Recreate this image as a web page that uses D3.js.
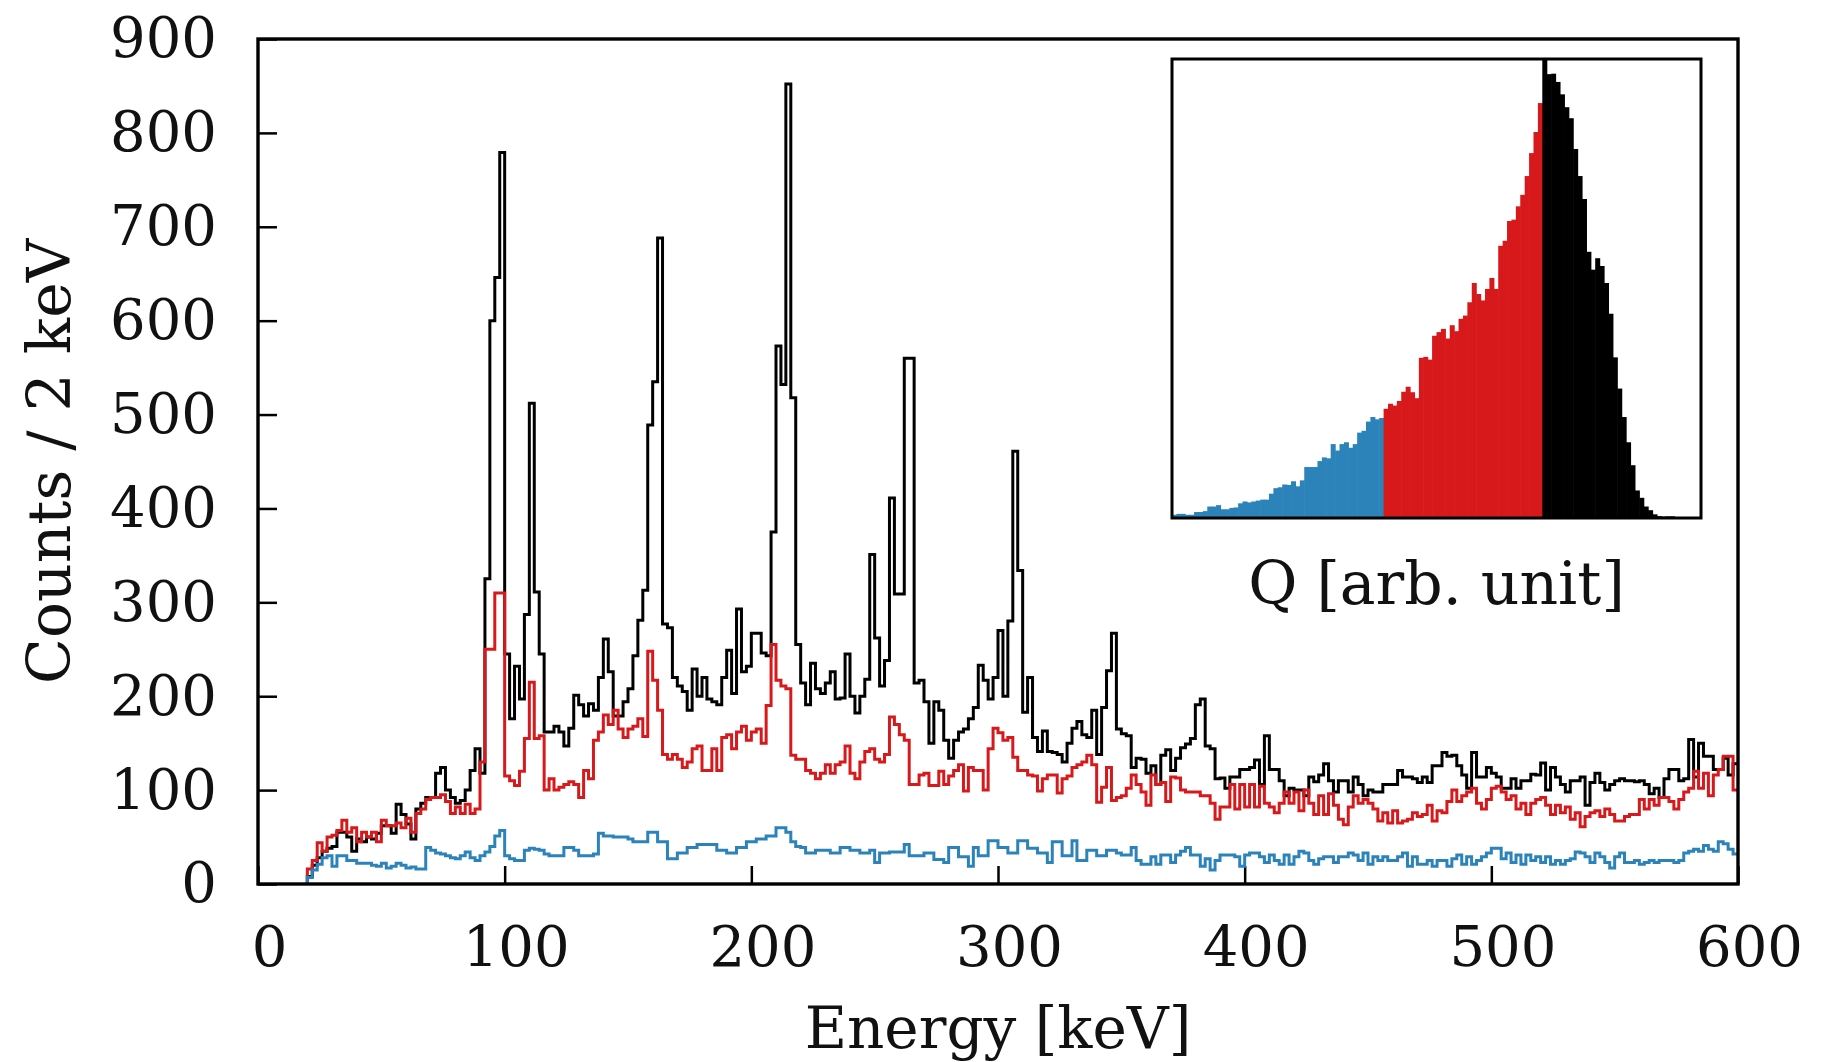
<!DOCTYPE html>
<html>
<head>
<meta charset="utf-8">
<script src="https://cdn.jsdelivr.net/npm/d3@7"></script>
<style>
  body { margin: 0; background: #fff; }
</style>
</head>
<body>
<div id="chart-area"></div>
<script>
// spectra: counts per 2 keV bin, first bin starts at 20 keV
let binStart = 20, binWidth = 2;

let allCounts = [
  8, 20, 28, 35, 38, 40, 55, 55, 50, 35,
  48, 45, 50, 48, 54, 62, 62, 54, 85, 74,
  64, 48, 80, 86, 92, 92, 118, 124, 100, 92,
  86, 89, 100, 121, 144, 118, 325, 600, 646, 779,
  245, 176, 232, 197, 287, 512, 311, 245, 162, 162,
  168, 162, 147, 166, 201, 191, 179, 192, 185, 220,
  261, 226, 179, 179, 194, 208, 243, 281, 313, 489,
  535, 688, 277, 273, 220, 211, 205, 185, 229, 200,
  220, 197, 194, 191, 220, 249, 203, 293, 226, 232,
  267, 267, 246, 243, 375, 573, 532, 852, 518, 255,
  214, 191, 235, 208, 203, 214, 226, 197, 198, 245,
  200, 182, 200, 218, 351, 262, 211, 238, 411, 309,
  309, 560, 560, 214, 217, 194, 150, 194, 185, 153,
  134, 153, 162, 165, 176, 188, 233, 217, 197, 220,
  270, 200, 280, 461, 334, 183, 220, 156, 141, 163,
  141, 140, 138, 130, 150, 166, 173, 159, 156, 185,
  138, 188, 227, 267, 165, 160, 158, 124, 134, 133,
  118, 126, 106, 137, 143, 121, 134, 145, 149, 155,
  191, 197, 147, 144, 112, 113, 102, 114, 114, 122,
  122, 124, 132, 106, 158, 122, 122, 110, 94, 102,
  100, 100, 94, 114, 109, 116, 128, 110, 98, 110,
  110, 98, 114, 106, 94, 100, 98, 98, 106, 106,
  106, 121, 114, 114, 112, 108, 114, 108, 126, 126,
  140, 136, 137, 126, 116, 102, 140, 114, 114, 124,
  118, 114, 102, 102, 112, 102, 110, 110, 117, 116,
  129, 100, 124, 114, 106, 98, 110, 110, 114, 84,
  108, 118, 108, 100, 106, 110, 112, 110, 110, 109,
  110, 106, 96, 102, 92, 112, 122, 122, 110, 112,
  154, 114, 150, 136, 136, 122, 122, 134, 116, 128
];

let midCounts = [
  16, 25, 44, 35, 50, 52, 57, 68, 55, 60,
  45, 55, 50, 55, 45, 68, 62, 62, 65, 60,
  70, 55, 75, 80, 90, 92, 92, 95, 88, 75,
  82, 75, 85, 75, 80, 130, 250, 250, 310, 310,
  115, 110, 105, 120, 155, 215, 155, 158, 100, 112,
  100, 103, 106, 109, 106, 92, 121, 112, 153, 162,
  180, 170, 185, 165, 156, 165, 168, 176, 157, 248,
  217, 185, 138, 133, 138, 133, 124, 130, 144, 147,
  121, 121, 144, 121, 156, 159, 144, 162, 168, 153,
  162, 165, 150, 190, 255, 217, 211, 208, 137, 133,
  133, 121, 118, 112, 118, 127, 118, 127, 130, 147,
  118, 112, 130, 141, 144, 133, 130, 138, 178, 170,
  159, 153, 106, 106, 116, 118, 105, 105, 120, 106,
  115, 121, 127, 99, 124, 121, 121, 100, 144, 166,
  161, 153, 156, 135, 121, 121, 116, 115, 99, 112,
  116, 116, 97, 112, 115, 124, 127, 130, 137, 127,
  87, 103, 124, 89, 92, 94, 102, 116, 106, 98,
  84, 116, 106, 108, 88, 114, 113, 100, 98, 98,
  98, 94, 94, 86, 69, 82, 82, 106, 80, 106,
  82, 106, 82, 104, 86, 82, 76, 86, 98, 86,
  98, 78, 100, 86, 74, 94, 74, 96, 84, 69,
  63, 82, 94, 86, 90, 86, 80, 67, 76, 65,
  78, 65, 67, 69, 76, 72, 74, 84, 67, 78,
  76, 88, 100, 88, 94, 98, 102, 86, 80, 90,
  102, 104, 98, 90, 94, 80, 86, 74, 86, 90,
  92, 84, 74, 84, 76, 82, 69, 76, 61, 72,
  76, 78, 72, 80, 74, 67, 67, 72, 74, 74,
  90, 80, 90, 84, 92, 92, 88, 80, 90, 98,
  102, 120, 102, 118, 94, 116, 122, 136, 136, 100
];

let lowCounts = [
  7, 15, 21, 28, 30, 19, 30, 30, 25, 25,
  22, 22, 22, 20, 19, 22, 17, 19, 22, 20,
  17, 18, 16, 16, 39, 36, 33, 32, 30, 28,
  27, 30, 34, 28, 25, 30, 34, 40, 51, 57,
  30, 27, 25, 25, 36, 38, 37, 36, 32, 30,
  30, 30, 39, 39, 36, 30, 30, 30, 32, 54,
  51, 51, 50, 50, 50, 48, 45, 45, 45, 55,
  55, 45, 45, 27, 27, 33, 33, 39, 39, 42,
  42, 42, 42, 36, 36, 33, 33, 39, 39, 45,
  45, 48, 48, 51, 51, 60, 60, 55, 45, 40,
  39, 33, 33, 36, 36, 36, 33, 33, 39, 39,
  36, 36, 33, 33, 36, 23, 33, 33, 34, 34,
  34, 42, 30, 30, 30, 33, 33, 26, 26, 23,
  39, 39, 29, 29, 19, 39, 30, 30, 46, 46,
  39, 39, 33, 33, 46, 46, 38, 38, 33, 33,
  23, 45, 45, 30, 30, 46, 25, 25, 36, 36,
  30, 30, 36, 36, 33, 31, 31, 39, 25, 21,
  21, 29, 21, 31, 31, 23, 31, 35, 39, 31,
  31, 19, 27, 15, 25, 31, 31, 31, 29, 19,
  31, 33, 33, 29, 23, 31, 25, 21, 31, 21,
  29, 35, 33, 25, 21, 27, 29, 29, 23, 29,
  29, 33, 31, 25, 33, 21, 29, 25, 29, 25,
  25, 29, 33, 19, 29, 21, 21, 25, 19, 25,
  25, 19, 27, 31, 21, 29, 21, 25, 29, 33,
  38, 38, 27, 33, 23, 31, 21, 31, 25, 29,
  23, 29, 21, 25, 21, 25, 27, 34, 33, 29,
  23, 33, 29, 23, 17, 29, 33, 23, 23, 25,
  21, 23, 25, 23, 25, 25, 25, 23, 25, 33,
  35, 37, 35, 41, 37, 35, 45, 43, 37, 32
];

// inset: Q distribution (arbitrary units), split into three selections
let qLow = [
  0.7, 0.9, 0.9, 0.7, 0.7, 1.3, 1.3, 1.5, 2.5, 2.5,
  2.8, 1.9, 1.9, 2.2, 2.3, 3.2, 3.6, 3.4, 3.6, 3.8,
  4.0, 4.0, 5.3, 6.5, 6.7, 7.3, 7.2, 8.0, 6.9, 8.2,
  11.1, 11.1, 11.1, 12.4, 13.2, 13.0, 16.1, 14.7, 16.1, 16.5,
  15.3, 16.1, 18.6, 19.0, 21.0, 22.0, 21.5, 21.8
];
let qMid = [
  23.8, 24.9, 24.5, 25.5, 27.5, 28.6, 27.4, 26.1, 34.9, 35.1,
  34.5, 39.7, 40.5, 41.2, 39.1, 42.0, 40.7, 43.4, 44.1, 47.0,
  51.2, 48.8, 47.4, 49.9, 52.3, 49.9, 59.3, 60.4, 64.7, 65.0,
  67.9, 70.4, 74.5, 79.5, 84.1, 90.4
];
let qHigh = [
  99.8, 96.7, 96.8, 95.0, 92.3, 89.5, 87.1, 80.4, 74.5, 69.5,
  58.0, 54.1, 56.6, 54.9, 51.2, 44.5, 35.0, 28.2, 22.0, 16.5,
  11.5, 6.0, 4.4, 2.5, 1.7, 0.8, 0.4, 0.3, 0.35, 0.35,
  0.2, 0.2, 0.1, 0.1, 0.05, 0.05
];

let xTicks = [0, 100, 200, 300, 400, 500, 600];
let yTicks = [0, 100, 200, 300, 400, 500, 600, 700, 800, 900];

let colors = {high: "#000000", mid: "#d7191c", low: "#2b83ba"};
let serif = "'DejaVu Serif', serif";

// SVG drawing area
let margin = {top: 39, right: 98, bottom: 178, left: 258};
let width = 1836 - margin.left - margin.right,
    height = 1062 - margin.top - margin.bottom;

let svg = d3.select("#chart-area").append("svg")
    .attr("width", 1836)
    .attr("height", 1062)
  .append("g")
    .attr("transform", "translate(" + margin.left + "," + margin.top + ")");

// Scales
let x = d3.scaleLinear().domain([0, 600]).range([0, width]);
let y = d3.scaleLinear().domain([0, 900]).range([height, 0]);

// Axes (ticks point inward)
let xAxisGroup = svg.append("g")
    .attr("class", "x-axis axis")
    .attr("transform", `translate(0, ${height})`)
    .call(d3.axisBottom(x).tickValues(xTicks).tickSize(-18).tickPadding(42));

let yAxisGroup = svg.append("g")
    .attr("class", "y-axis axis")
    .call(d3.axisLeft(y).tickValues(yTicks).tickSize(-19).tickPadding(41));

svg.selectAll(".axis .domain").remove();
svg.selectAll(".axis line").attr("stroke", "#000").attr("stroke-width", 2.5);
svg.selectAll(".axis").attr("font-family", serif).attr("font-size", 56);
svg.selectAll(".axis text").attr("fill", "#111");
xAxisGroup.selectAll("text").attr("dx", 11);

// histogram outlines
function stepPoints(counts) {
    let pts = [[binStart, 0]];
    counts.forEach((c, i) => pts.push([binStart + i * binWidth, c]));
    pts.push([binStart + counts.length * binWidth, counts[counts.length - 1]]);
    return pts;
}

let stepLine = d3.line()
    .x(d => x(d[0]))
    .y(d => y(d[1]))
    .curve(d3.curveStepAfter);

[[allCounts, colors.high], [midCounts, colors.mid], [lowCounts, colors.low]].forEach(s => {
    svg.append("path")
        .attr("d", stepLine(stepPoints(s[0])))
        .attr("fill", "none")
        .attr("stroke", s[1])
        .attr("stroke-width", 3)
        .attr("stroke-linejoin", "miter");
});

// frame
svg.append("rect")
    .attr("width", width)
    .attr("height", height)
    .attr("fill", "none")
    .attr("stroke", "#000")
    .attr("stroke-width", 3.4);

// axis titles
svg.append("text")
    .attr("x", width / 2)
    .attr("y", 1048 - margin.top)
    .attr("text-anchor", "middle")
    .attr("font-family", serif)
    .attr("font-size", 58)
    .attr("fill", "#111")
    .text("Energy [keV]");

svg.append("text")
    .attr("transform", `translate(${70 - margin.left}, ${height / 2}) rotate(-90)`)
    .attr("text-anchor", "middle")
    .attr("font-family", serif)
    .attr("font-size", 60)
    .attr("fill", "#111")
    .text("Counts / 2 keV");

// inset
let inset = {left: 1172 - margin.left, top: 59 - margin.top, width: 529, height: 459};
let qAll = qLow.map(v => ({v: v, c: colors.low}))
    .concat(qMid.map(v => ({v: v, c: colors.mid})))
    .concat(qHigh.map(v => ({v: v, c: colors.high})));

let qx = d3.scaleLinear().domain([0, qAll.length]).range([inset.left, inset.left + inset.width]);
let qy = d3.scaleLinear().domain([0, 100]).range([inset.top + inset.height, inset.top]);

svg.append("rect")
    .attr("x", inset.left).attr("y", inset.top)
    .attr("width", inset.width).attr("height", inset.height)
    .attr("fill", "#fff");

svg.selectAll(".qbar")
    .data(qAll)
  .enter().append("rect")
    .attr("class", "qbar")
    .attr("x", (d, i) => qx(i))
    .attr("y", d => qy(d.v))
    .attr("width", qx(1) - qx(0) + 0.6)
    .attr("height", d => qy(0) - qy(d.v))
    .attr("fill", d => d.c);

svg.append("rect")
    .attr("x", inset.left).attr("y", inset.top)
    .attr("width", inset.width).attr("height", inset.height)
    .attr("fill", "none")
    .attr("stroke", "#000")
    .attr("stroke-width", 3);

svg.append("text")
    .attr("x", inset.left + inset.width / 2)
    .attr("y", 604 - margin.top)
    .attr("text-anchor", "middle")
    .attr("font-family", serif)
    .attr("font-size", 60)
    .attr("fill", "#111")
    .text("Q [arb. unit]");
</script>
</body>
</html>
